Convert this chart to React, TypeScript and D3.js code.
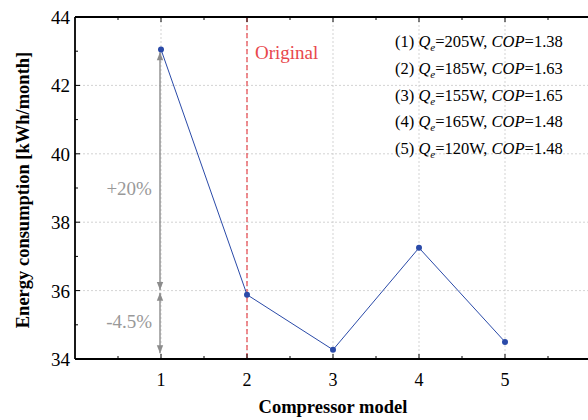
import React from 'react';
import * as d3 from 'd3';

const models = [1, 2, 3, 4, 5];
const energy = [43.05, 35.88, 34.27, 37.25, 34.5];
const yTicks = [34, 36, 38, 40, 42, 44];
const legendQe = ['205', '185', '155', '165', '120'];
const legendCop = ['1.38', '1.63', '1.65', '1.48', '1.48'];
const arrowSpans = [
  { from: 42.97, to: 36.02, label: '+20%', labelAt: 38.8 },
  { from: 35.94, to: 34.17, label: '-4.5%', labelAt: 34.9 },
];
const originalModel = 2;

const App = () => {
  const Width = 588;
  const Height = 420;
  const margin = { top: 17, right: -3, bottom: 61, left: 75 };
  const chartWidth = Width - margin.left - margin.right;
  const chartHeight = Height - margin.top - margin.bottom;
  const font = '"Liberation Serif", "Times New Roman", serif';

  const xScale = d3.scaleLinear().domain([0, 6]).range([0, chartWidth]);
  const yScale = d3.scaleLinear().domain([34, 44]).range([chartHeight, 0]);

  const line = d3
    .line<number>()
    .x((_, i) => xScale(models[i]))
    .y((d) => yScale(d));

  const xMinor = d3.range(0.5, 6, 1);
  const yMinor = d3.range(35, 44, 2);
  const blue = '#2a4aa8';
  const grey = '#8c8c8c';

  return (
    <svg width={Width} height={Height} style={{ position: 'absolute', left: 0, top: 0, fontFamily: font }}>
      <defs>
        <marker id="ah" viewBox="0 0 10 10" refX="10" refY="5" markerWidth="10" markerHeight="8" orient="auto-start-reverse" markerUnits="userSpaceOnUse">
          <path d="M0,1 L10,5 L0,9 Z" fill={grey} />
        </marker>
      </defs>
      <rect width={Width} height={Height} fill="#fff" />
      <g transform={`translate(${margin.left}, ${margin.top})`}>
        {/* grid */}
        {yTicks.slice(1, -1).map((t) => (
          <line key={'gy' + t} x1={0} x2={chartWidth} y1={yScale(t)} y2={yScale(t)} stroke="#c8c8c8" strokeWidth={0.8} strokeDasharray="2,2" />
        ))}
        {models.map((m) => (
          <line key={'gx' + m} x1={xScale(m)} x2={xScale(m)} y1={0} y2={chartHeight} stroke="#c8c8c8" strokeWidth={0.8} strokeDasharray="2,2" />
        ))}

        {/* original marker */}
        <line x1={xScale(originalModel)} x2={xScale(originalModel)} y1={0} y2={chartHeight} stroke="#e8474c" strokeWidth={1.2} strokeDasharray="5,3" />
        <text x={xScale(originalModel) + 8} y={yScale(42.78)} fill="#e8474c" style={{ fontSize: '19px' }}>Original</text>

        {/* arrows */}
        {arrowSpans.map((a, i) => (
          <g key={'ar' + i}>
            <line x1={xScale(1) - 1} x2={xScale(1) - 1} y1={yScale(a.from)} y2={yScale(a.to)} stroke={grey} strokeWidth={1.4} markerStart="url(#ah)" markerEnd="url(#ah)" />
            <text x={xScale(0.63)} y={yScale(a.labelAt)} textAnchor="middle" fill="#999" style={{ fontSize: '19px' }}>{a.label}</text>
          </g>
        ))}

        {/* data */}
        <path d={line(energy) || ''} fill="none" stroke={blue} strokeWidth={1} />
        {energy.map((d, i) => (
          <circle key={'p' + i} cx={xScale(models[i])} cy={yScale(d)} r={3} fill={blue} />
        ))}

        {/* ticks */}
        {models.map((m) => (
          <g key={'xt' + m}>
            <line x1={xScale(m)} x2={xScale(m)} y1={chartHeight} y2={chartHeight - 5} stroke="#000" />
            <line x1={xScale(m)} x2={xScale(m)} y1={0} y2={5} stroke="#000" />
            <text x={xScale(m)} y={chartHeight + 27} textAnchor="middle" style={{ fontSize: '18px' }}>{m}</text>
          </g>
        ))}
        {xMinor.map((m) => (
          <g key={'xm' + m}>
            <line x1={xScale(m)} x2={xScale(m)} y1={chartHeight} y2={chartHeight - 3} stroke="#000" />
            <line x1={xScale(m)} x2={xScale(m)} y1={0} y2={3} stroke="#000" />
          </g>
        ))}
        {yTicks.map((t) => (
          <g key={'yt' + t}>
            <line x1={0} x2={5} y1={yScale(t)} y2={yScale(t)} stroke="#000" />
            <text x={-5} y={yScale(t) + 7} textAnchor="end" style={{ fontSize: '19px' }}>{t}</text>
          </g>
        ))}
        {yMinor.map((t) => (
          <line key={'ym' + t} x1={0} x2={3} y1={yScale(t)} y2={yScale(t)} stroke="#000" />
        ))}

        {/* frame */}
        <line x1={0} x2={chartWidth} y1={chartHeight} y2={chartHeight} stroke="#000" strokeWidth={1.8} />
        <line x1={0} x2={chartWidth} y1={0} y2={0} stroke="#000" strokeWidth={1.8} />
        <line x1={0} x2={0} y1={0} y2={chartHeight} stroke="#000" strokeWidth={1.8} />

        {/* legend */}
        {legendQe.map((q, i) => (
          <text key={'lg' + i} x={320} y={30 + i * 26.8} style={{ fontSize: '16.5px' }}>
            ({i + 1}) <tspan fontStyle="italic">Q</tspan>
            <tspan fontStyle="italic" fontSize="11px" dy={4}>e</tspan>
            <tspan dy={-4}>={q}W, </tspan>
            <tspan fontStyle="italic">COP</tspan>={legendCop[i]}
          </text>
        ))}

        {/* axis titles */}
        <text x={xScale(3)} y={chartHeight + 54} textAnchor="middle" fontWeight="bold" style={{ fontSize: '18.5px' }}>Compressor model</text>
        <text transform={`translate(-46, ${chartHeight / 2 + 2}) rotate(-90)`} textAnchor="middle" fontWeight="bold" style={{ fontSize: '18.5px' }}>
          Energy consumption [kWh/month]
        </text>
      </g>
    </svg>
  );
};

export default App;
